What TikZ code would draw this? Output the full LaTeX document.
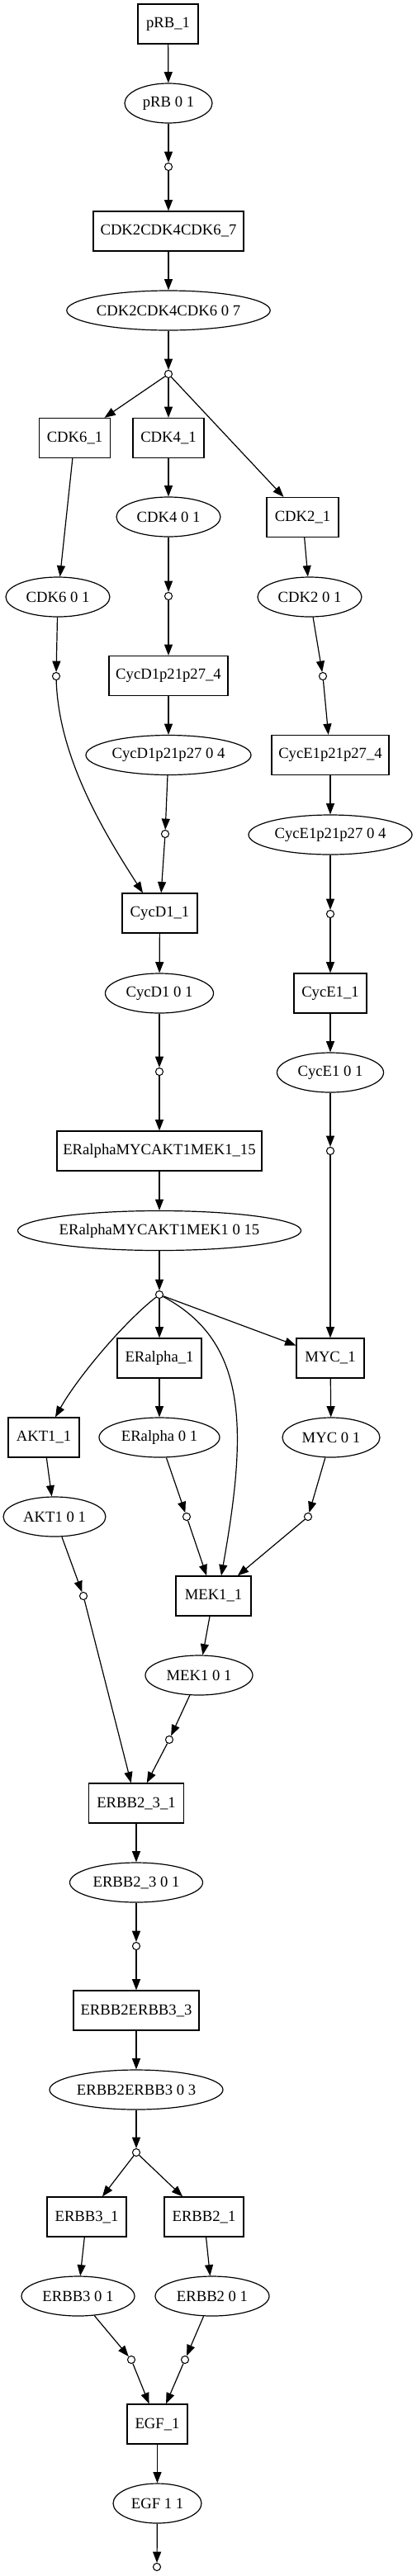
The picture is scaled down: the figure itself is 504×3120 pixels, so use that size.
\documentclass[tikz,border=0pt]{standalone}
\usepackage{fontspec}
\setmainfont{Liberation Serif}
\usetikzlibrary{shapes.geometric,arrows.meta}
\tikzset{
  every node/.style={font=\fontsize{14}{16}\selectfont, line width=0.9pt},
  box/.style={draw, rectangle, minimum width=#1*0.75pt, minimum height=36pt, inner sep=0pt},
  ell/.style={draw, ellipse, minimum width=#1*0.75pt, minimum height=36pt, inner sep=0pt},
  pt/.style={draw, circle, fill=white, minimum size=6.8pt, inner sep=0pt, line width=0.8pt},
  e/.style={-{Triangle[length=10pt,width=7.5pt]}, line width=0.9pt},
}
\begin{document}
\begin{tikzpicture}[x=0.75pt,y=-0.75pt]
\fill[white] (0,0) rectangle (504,3120);
\useasboundingbox (0,0) rectangle (504,3120);
% boxes
\node[box=73]  (prb1)   at (203.5,29)   {pRB\_1};
\node[box=182] (cdk7)   at (204,280)    {CDK2CDK4CDK6\_7};
\node[box=86]  (cdk61)  at (90.5,530.5) {CDK6\_1};
\node[box=86]  (cdk41)  at (204,530.5)  {CDK4\_1};
\node[box=87]  (cdk21)  at (366.5,626.5){CDK2\_1};
\node[box=144] (cycdp)  at (204,818.5)  {CycD1p21p27\_4};
\node[box=142] (cycep)  at (400,914.5)  {CycE1p21p27\_4};
\node[box=91]  (cycd1)  at (193.5,1106) {CycD1\_1};
\node[box=88]  (cyce1)  at (400,1203)   {CycE1\_1};
\node[box=248] (era15)  at (193,1394)   {ERalphaMYCAKT1MEK1\_15};
\node[box=102] (eral1)  at (193,1645)   {ERalpha\_1};
\node[box=82]  (myc1)   at (400,1645)   {MYC\_1};
\node[box=86]  (akt11)  at (53,1741)    {AKT1\_1};
\node[box=91]  (mek11)  at (258.5,1933) {MEK1\_1};
\node[box=115] (eb231)  at (165,2184)   {ERBB2\_3\_1};
\node[box=152] (eb233)  at (165,2435)   {ERBB2ERBB3\_3};
\node[box=96]  (eb31)   at (105,2685)   {ERBB3\_1};
\node[box=96]  (eb21)   at (247,2685)   {ERBB2\_1};
\node[box=73]  (egf1)   at (190.5,2936) {EGF\_1};
% ellipses
\node[ell=106] (prbe)   at (204,125)    {pRB 0 1};
\node[ell=246] (cdke)   at (204,376)    {CDK2CDK4CDK6 0 7};
\node[ell=126] (cdk4e)  at (204,626)    {CDK4 0 1};
\node[ell=126] (cdk6e)  at (70,723)     {CDK6 0 1};
\node[ell=126] (cdk2e)  at (375,723)    {CDK2 0 1};
\node[ell=200] (cycdpe) at (204,914.5)  {CycD1p21p27 0 4};
\node[ell=198] (cycepe) at (400,1011)   {CycE1p21p27 0 4};
\node[ell=131] (cycd1e) at (193,1203)   {CycD1 0 1};
\node[ell=129] (cyce1e) at (400,1299)   {CycE1 0 1};
\node[ell=336] (era15e) at (193,1490.5) {ERalphaMYCAKT1MEK1 0 15};
\node[ell=146] (erale)  at (193,1741)   {ERalpha 0 1};
\node[ell=118] (myce)   at (401,1741)   {MYC 0 1};
\node[ell=124] (akt1e)  at (66,1837)    {AKT1 0 1};
\node[ell=130] (mek1e)  at (241,2029)   {MEK1 0 1};
\node[ell=161] (eb23e)  at (165,2280)   {ERBB2\_3 0 1};
\node[ell=210] (eb233e) at (165,2531)   {ERBB2ERBB3 0 3};
\node[ell=137] (eb3e)   at (94.5,2781)  {ERBB3 0 1};
\node[ell=138] (eb2e)   at (257,2781)   {ERBB2 0 1};
\node[ell=107] (egfe)   at (190.5,3032) {EGF 1 1};
% points
\node[pt] (c1)  at (204,202)  {};
\node[pt] (c2)  at (204,453)  {};
\node[pt] (c3)  at (204,722)  {};
\node[pt] (c4)  at (68,819)   {};
\node[pt] (c5)  at (391,819)  {};
\node[pt] (c6)  at (200,1010) {};
\node[pt] (c7)  at (400,1107) {};
\node[pt] (c8)  at (193,1298) {};
\node[pt] (c9)  at (400,1394) {};
\node[pt] (c10) at (193,1568) {};
\node[pt] (c11) at (226,1837) {};
\node[pt] (c12) at (373,1837) {};
\node[pt] (c13) at (101,1933) {};
\node[pt] (c14) at (205,2107) {};
\node[pt] (c15) at (165,2357) {};
\node[pt] (c16) at (165,2607) {};
\node[pt] (c17) at (159,2858) {};
\node[pt] (c18) at (224,2858) {};
\node[pt] (c19) at (190,3109) {};
% edges
\draw[e] (prb1) -- (prbe);
\draw[e] (prbe) -- (c1);
\draw[e] (c1) -- (cdk7);
\draw[e] (cdk7) -- (cdke);
\draw[e] (cdke) -- (c2);
\draw[e] (c2) -- (cdk61);
\draw[e] (c2) -- (cdk41);
\draw[e] (c2) -- (cdk21);
\draw[e] (cdk61) -- (cdk6e);
\draw[e] (cdk41) -- (cdk4e);
\draw[e] (cdk21) -- (cdk2e);
\draw[e] (cdk6e) -- (c4);
\draw[e] (cdk4e) -- (c3);
\draw[e] (cdk2e) -- (c5);
\draw[e] (c3) -- (cycdp);
\draw[e] (c5) -- (cycep);
\draw[e] (cycdp) -- (cycdpe);
\draw[e] (cycep) -- (cycepe);
\draw[e] (cycdpe) -- (c6);
\draw[e] (cycepe) -- (c7);
\draw[e] (c4) .. controls +(3,100) and +(-45,-70) .. ([xshift=-15.4pt]cycd1.north);
\draw[e] (c6) -- (cycd1);
\draw[e] (c7) -- (cyce1);
\draw[e] (cycd1) -- (cycd1e);
\draw[e] (cyce1) -- (cyce1e);
\draw[e] (cycd1e) -- (c8);
\draw[e] (cyce1e) -- (c9);
\draw[e] (c8) -- (era15);
\draw[e] (era15) -- (era15e);
\draw[e] (era15e) -- (c10);
\draw[e] (c9) -- (myc1);
\draw[e] (c10) .. controls +(-45,35) and +(25,-45) .. ([xshift=10.5pt]akt11.north);
\draw[e] (c10) -- (eral1);
\draw[e] (c10) .. controls +(107,57) and +(32,-179) .. ([xshift=7.1pt]mek11.north);
\draw[e] (c10) -- (myc1);
\draw[e] (eral1) -- (erale);
\draw[e] (myc1) -- (myce);
\draw[e] (akt11) -- (akt1e);
\draw[e] (erale) -- (c11);
\draw[e] (myce) -- (c12);
\draw[e] (akt1e) -- (c13);
\draw[e] (c11) -- (mek11);
\draw[e] (c12) -- (mek11);
\draw[e] (mek11) -- (mek1e);
\draw[e] (mek1e) -- (c14);
\draw[e] (c13) -- (eb231);
\draw[e] (c14) -- (eb231);
\draw[e] (eb231) -- (eb23e);
\draw[e] (eb23e) -- (c15);
\draw[e] (c15) -- (eb233);
\draw[e] (eb233) -- (eb233e);
\draw[e] (eb233e) -- (c16);
\draw[e] (c16) -- (eb31);
\draw[e] (c16) -- (eb21);
\draw[e] (eb31) -- (eb3e);
\draw[e] (eb21) -- (eb2e);
\draw[e] (eb3e) -- (c17);
\draw[e] (eb2e) -- (c18);
\draw[e] (c17) -- (egf1);
\draw[e] (c18) -- (egf1);
\draw[e] (egf1) -- (egfe);
\draw[e] (egfe) -- (c19);
\end{tikzpicture}
\end{document}
